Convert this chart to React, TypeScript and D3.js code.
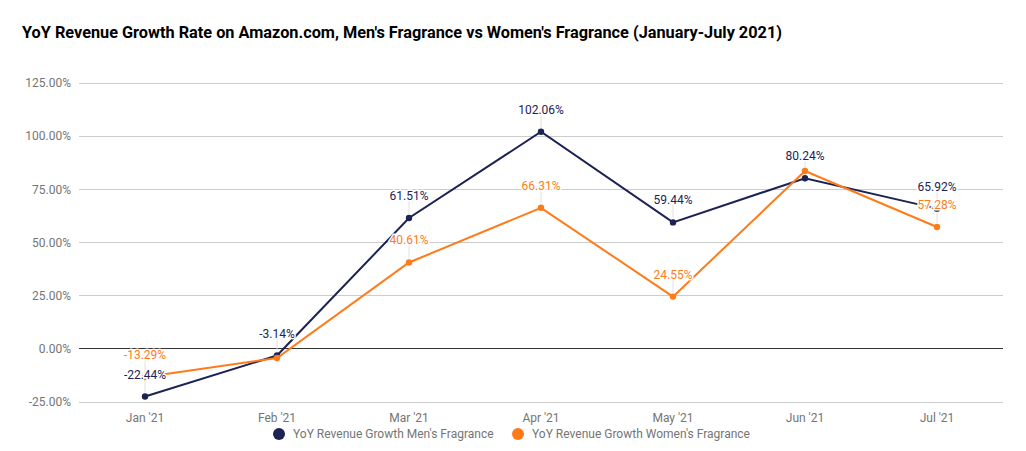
import { useEffect, useRef } from "react";
import * as d3 from "d3";

const months = ["Jan '21", "Feb '21", "Mar '21", "Apr '21", "May '21", "Jun '21", "Jul '21"];
const mensGrowth = [-22.44, -3.14, 61.51, 102.06, 59.44, 80.24, 65.92];
const womensGrowth = [-13.29, -4.3, 40.61, 66.31, 24.55, 83.6, 57.28];
// labels the original chart hides because they collide
const womensLabelShown = [true, false, true, true, true, false, true];
const yTickValues = [-25, 0, 25, 50, 75, 100, 125];

const W = 1026;
const H = 451;
const MARGIN = { top: 83, right: 23, bottom: 49, left: 79 };
const NAVY = "#1c2354";
const ORANGE = "#ff7b1a";
const FONT = "Roboto, sans-serif";

const pct = (v: number) => d3.format(".2f")(v).replace("\u2212", "-") + "%";

export default function App() {
  const svgRef = useRef<SVGSVGElement>(null);

  useEffect(() => {
    const svg = d3.select(svgRef.current);
    svg.selectAll("*").remove();
    svg.attr("width", W).attr("height", H).attr("viewBox", `0 0 ${W} ${H}`);

    svg.append("rect").attr("width", W).attr("height", H).attr("fill", "#fff");

    svg.append("text")
      .attr("x", 22)
      .attr("y", 38)
      .attr("font-family", FONT)
      .attr("font-size", "16.3px")
      .attr("font-weight", "bold")
      .attr("fill", "#000")
      .text("YoY Revenue Growth Rate on Amazon.com, Men's Fragrance vs Women's Fragrance (January-July 2021)");

    const x = d3.scalePoint<string>()
      .domain(months)
      .range([MARGIN.left, W - MARGIN.right])
      .padding(0.5);

    const y = d3.scaleLinear()
      .domain([-25, 125])
      .range([H - MARGIN.bottom, MARGIN.top]);

    // grid
    yTickValues.forEach((t) => {
      svg.append("line")
        .attr("x1", MARGIN.left)
        .attr("x2", W - MARGIN.right)
        .attr("y1", y(t))
        .attr("y2", y(t))
        .attr("stroke", t === 0 ? "#333" : "#cccccc")
        .attr("stroke-width", 1)
        .attr("shape-rendering", "crispEdges");

      svg.append("text")
        .attr("x", MARGIN.left - 8)
        .attr("y", y(t))
        .attr("dy", "0.35em")
        .attr("text-anchor", "end")
        .attr("font-family", FONT)
        .attr("font-size", "12px")
        .attr("fill", "#757575")
        .text(pct(t));
    });

    months.forEach((m) => {
      svg.append("text")
        .attr("x", x(m)!)
        .attr("y", y(-25) + 20)
        .attr("text-anchor", "middle")
        .attr("font-family", FONT)
        .attr("font-size", "12px")
        .attr("fill", "#757575")
        .text(m);
    });

    const series = [
      { values: mensGrowth, color: NAVY, shown: months.map(() => true) },
      { values: womensGrowth, color: ORANGE, shown: womensLabelShown },
    ];

    const line = d3.line<number>()
      .x((_, i) => x(months[i])!)
      .y((d) => y(d));

    // leader lines
    series.forEach((s) => {
      s.values.forEach((v, i) => {
        if (!s.shown[i]) return;
        svg.append("line")
          .attr("x1", x(months[i])!)
          .attr("x2", x(months[i])!)
          .attr("y1", y(v) - 4)
          .attr("y2", y(v) - 18)
          .attr("stroke", "#e0e0e0")
          .attr("stroke-width", 1);
      });
    });

    series.forEach((s) => {
      svg.append("path")
        .datum(s.values)
        .attr("d", line)
        .attr("fill", "none")
        .attr("stroke", s.color)
        .attr("stroke-width", 2);

      svg.selectAll(null)
        .data(s.values)
        .enter()
        .append("circle")
        .attr("cx", (_, i) => x(months[i])!)
        .attr("cy", (d) => y(d))
        .attr("r", 3.2)
        .attr("fill", s.color);
    });

    // data labels with white halo
    series.forEach((s) => {
      s.values.forEach((v, i) => {
        if (!s.shown[i]) return;
        svg.append("text")
          .attr("x", x(months[i])!)
          .attr("y", y(v) - 18)
          .attr("text-anchor", "middle")
          .attr("font-family", FONT)
          .attr("font-size", "12px")
          .attr("fill", s.color)
          .attr("stroke", "#fff")
          .attr("stroke-width", 3)
          .attr("stroke-linejoin", "round")
          .attr("paint-order", "stroke")
          .text(pct(v));
      });
    });

    // legend
    const legend = [
      { label: "YoY Revenue Growth Men's Fragrance", color: NAVY, cx: 279 },
      { label: "YoY Revenue Growth Women's Fragrance", color: ORANGE, cx: 518 },
    ];
    legend.forEach((l) => {
      svg.append("circle")
        .attr("cx", l.cx)
        .attr("cy", 434)
        .attr("r", 6)
        .attr("fill", l.color);
      svg.append("text")
        .attr("x", l.cx + 14)
        .attr("y", 434)
        .attr("dy", "0.35em")
        .attr("font-family", FONT)
        .attr("font-size", "12px")
        .attr("fill", "#757575")
        .text(l.label);
    });
  }, []);

  return (
    <div style={{ position: "absolute", left: 0, top: 0 }}>
      <svg ref={svgRef} style={{ display: "block" }} />
    </div>
  );
}
